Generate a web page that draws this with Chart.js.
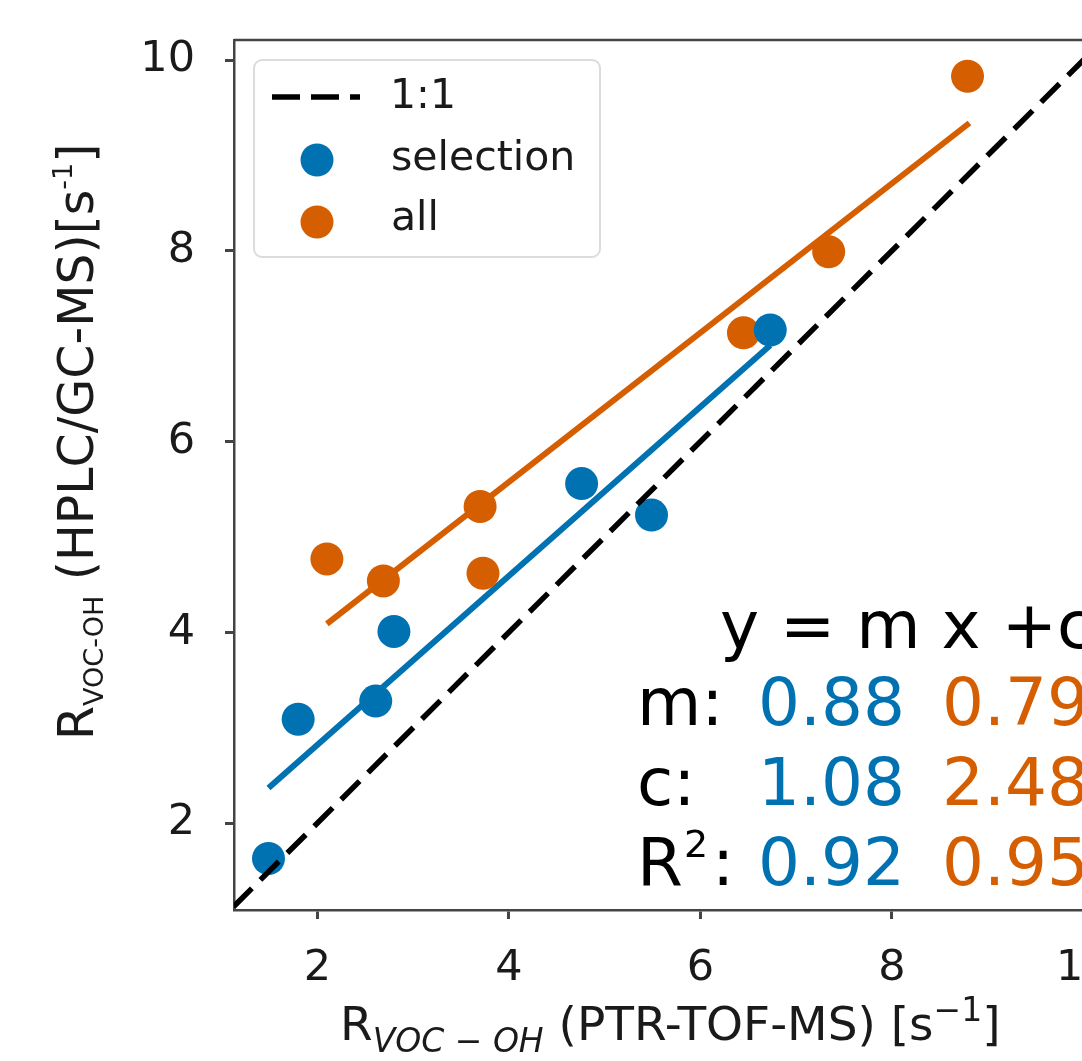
<!DOCTYPE html>
<html>
<head>
<meta charset="utf-8">
<script src="https://cdn.jsdelivr.net/npm/chart.js@4.4.1/dist/chart.umd.min.js"></script>
<style>
  html, body { margin: 0; padding: 0; overflow: hidden; background: #fff; }
  canvas { display: block; }
</style>
</head>
<body>
<canvas id="chart" width="1120" height="1061"></canvas>
<script>
// values
const selectionX = [1.49, 1.80, 2.61, 2.80, 4.76, 5.49, 6.73];
const selectionY = [1.63, 3.09, 3.28, 4.01, 5.56, 5.23, 7.17];
const allX = [2.10, 2.69, 3.70, 3.73, 6.45, 7.34, 8.79];
const allY = [4.77, 4.54, 5.32, 4.62, 7.14, 7.99, 9.83];
const selectionFitX = [1.49, 6.73];
const selectionFitY = [2.37, 7.01];
const allFitX = [2.10, 8.81];
const allFitY = [4.09, 9.34];
const oneToOne = [0, 12];
const xTickValues = [2, 4, 6, 8, 10];
const yTickValues = [2, 4, 6, 8, 10];
const seriesNames = ['1:1', 'selection', 'all'];
const slopes = ['0.88', '0.79'];
const intercepts = ['1.08', '2.48'];
const rSquared = ['0.92', '0.95'];

const BLUE = '#0072B2';
const ORANGE = '#D55E00';
const INK = '#1a1a1a';
const AXIS = '#444';
const FONT = '"DejaVu Sans", sans-serif';

const pts = (xs, ys) => xs.map((x, i) => ({ x: x, y: ys[i] }));

function drawRich(ctx, parts, x, y) {
  for (const p of parts) {
    ctx.font = p.font;
    ctx.fillStyle = p.color || INK;
    ctx.fillText(p.text, x, y + (p.dy || 0));
    x += ctx.measureText(p.text).width;
  }
  return x;
}

const decor = {
  id: 'decor',
  afterDraw(chart) {
    const ctx = chart.ctx;
    const a = chart.chartArea;
    ctx.save();

    // top and right spines
    ctx.strokeStyle = AXIS;
    ctx.lineWidth = 2.5;
    ctx.beginPath();
    ctx.moveTo(a.left, a.top);
    ctx.lineTo(a.right, a.top);
    ctx.lineTo(a.right, a.bottom);
    ctx.stroke();

    // legend
    ctx.fillStyle = 'rgba(255,255,255,0.8)';
    ctx.strokeStyle = '#dcdcdc';
    ctx.lineWidth = 2;
    ctx.beginPath();
    ctx.roundRect(254, 60, 346, 197, 8);
    ctx.fill();
    ctx.stroke();

    ctx.strokeStyle = '#000';
    ctx.lineWidth = 5.5;
    ctx.setLineDash([28, 11]);
    ctx.beginPath();
    ctx.moveTo(272, 97);
    ctx.lineTo(360, 97);
    ctx.stroke();
    ctx.setLineDash([]);

    ctx.fillStyle = BLUE;
    ctx.beginPath();
    ctx.arc(317, 160, 16.5, 0, Math.PI * 2);
    ctx.fill();
    ctx.fillStyle = ORANGE;
    ctx.beginPath();
    ctx.arc(317, 222, 16.5, 0, Math.PI * 2);
    ctx.fill();

    ctx.font = '41px ' + FONT;
    ctx.fillStyle = INK;
    ctx.textAlign = 'left';
    ctx.textBaseline = 'alphabetic';
    ctx.fillText(seriesNames[0], 390, 108);
    ctx.fillText(seriesNames[1], 391, 170);
    ctx.fillText(seriesNames[2], 391, 230);

    // fit summary
    const big = '66px ' + FONT;
    ctx.font = big;
    ctx.fillStyle = '#000';
    ctx.fillText('y = m x +c', 720, 648);
    const rows = [['m:', slopes, 725], ['c:', intercepts, 805]];
    for (const [lab, vals, yy] of rows) {
      ctx.fillStyle = '#000';
      ctx.fillText(lab, 637, yy);
      ctx.fillStyle = BLUE;
      ctx.fillText(vals[0], 758, yy);
      ctx.fillStyle = ORANGE;
      ctx.fillText(vals[1], 942, yy);
    }
    ctx.fillStyle = '#000';
    ctx.fillText('R', 637, 885);
    ctx.font = '38px ' + FONT;
    ctx.fillText('2', 684, 857);
    ctx.font = big;
    ctx.fillText(':', 712, 885);
    ctx.fillStyle = BLUE;
    ctx.fillText(rSquared[0], 758, 885);
    ctx.fillStyle = ORANGE;
    ctx.fillText(rSquared[1], 942, 885);

    // x axis title
    const xParts = [
      { text: 'R', font: '47px ' + FONT },
      { text: 'VOC \u2212 OH', font: 'italic 33px ' + FONT, dy: 12 },
      { text: ' (PTR-TOF-MS) [s', font: '47px ' + FONT },
      { text: '\u22121', font: '33px ' + FONT, dy: -19 },
      { text: ']', font: '47px ' + FONT }
    ];
    drawRich(ctx, xParts, 340, 1040);

    // y axis title
    const yParts = [
      { text: 'R', font: '49px ' + FONT },
      { text: 'VOC-OH', font: '27px ' + FONT, dy: 10 },
      { text: ' (HPLC/GC-MS)[s', font: '49px ' + FONT },
      { text: '-1', font: '27px ' + FONT, dy: -21 },
      { text: ']', font: '49px ' + FONT }
    ];
    ctx.translate(93, 740);
    ctx.rotate(-Math.PI / 2);
    drawRich(ctx, yParts, 0, 0);

    ctx.restore();
  }
};

const tickGrid = {
  drawOnChartArea: false,
  drawTicks: true,
  tickLength: 9,
  tickWidth: 3,
  tickColor: AXIS
};

new Chart(document.getElementById('chart'), {
  type: 'scatter',
  data: {
    datasets: [
      {
        label: seriesNames[0],
        type: 'line',
        data: pts(oneToOne, oneToOne),
        borderColor: '#000',
        borderWidth: 5.5,
        borderDash: [26, 12],
        pointRadius: 0,
        fill: false,
        order: 0
      },
      {
        label: seriesNames[1],
        data: pts(selectionX, selectionY),
        backgroundColor: BLUE,
        borderWidth: 0,
        pointRadius: 16.5,
        order: 1
      },
      {
        label: seriesNames[2],
        data: pts(allX, allY),
        backgroundColor: ORANGE,
        borderWidth: 0,
        pointRadius: 16.5,
        order: 2
      },
      {
        label: 'fit selection',
        type: 'line',
        data: pts(selectionFitX, selectionFitY),
        borderColor: BLUE,
        borderWidth: 6,
        pointRadius: 0,
        fill: false,
        order: 3
      },
      {
        label: 'fit all',
        type: 'line',
        data: pts(allFitX, allFitY),
        borderColor: ORANGE,
        borderWidth: 6,
        pointRadius: 0,
        fill: false,
        order: 4
      }
    ]
  },
  options: {
    responsive: false,
    animation: false,
    layout: { padding: { top: 40, right: 10, left: 0, bottom: 0 } },
    plugins: { legend: { display: false }, tooltip: { enabled: false } },
    scales: {
      x: {
        type: 'linear',
        min: 1.13,
        max: 10.21,
        afterBuildTicks: s => { s.ticks = xTickValues.map(v => ({ value: v })); },
        afterFit: s => { s.height = 151; s.paddingLeft = 0; s.paddingRight = 0; },
        grid: tickGrid,
        border: { display: true, color: AXIS, width: 2.5 },
        ticks: { font: { family: FONT, size: 43 }, color: INK, padding: 24, maxRotation: 0, autoSkip: false }
      },
      y: {
        type: 'linear',
        min: 1.09,
        max: 10.21,
        afterBuildTicks: s => { s.ticks = yTickValues.map(v => ({ value: v })); },
        afterFit: s => { s.width = 234; s.paddingTop = 0; s.paddingBottom = 0; },
        grid: tickGrid,
        border: { display: true, color: AXIS, width: 2.5 },
        ticks: { font: { family: FONT, size: 43 }, color: INK, padding: 30, autoSkip: false }
      }
    }
  },
  plugins: [decor]
});
</script>
</body>
</html>
